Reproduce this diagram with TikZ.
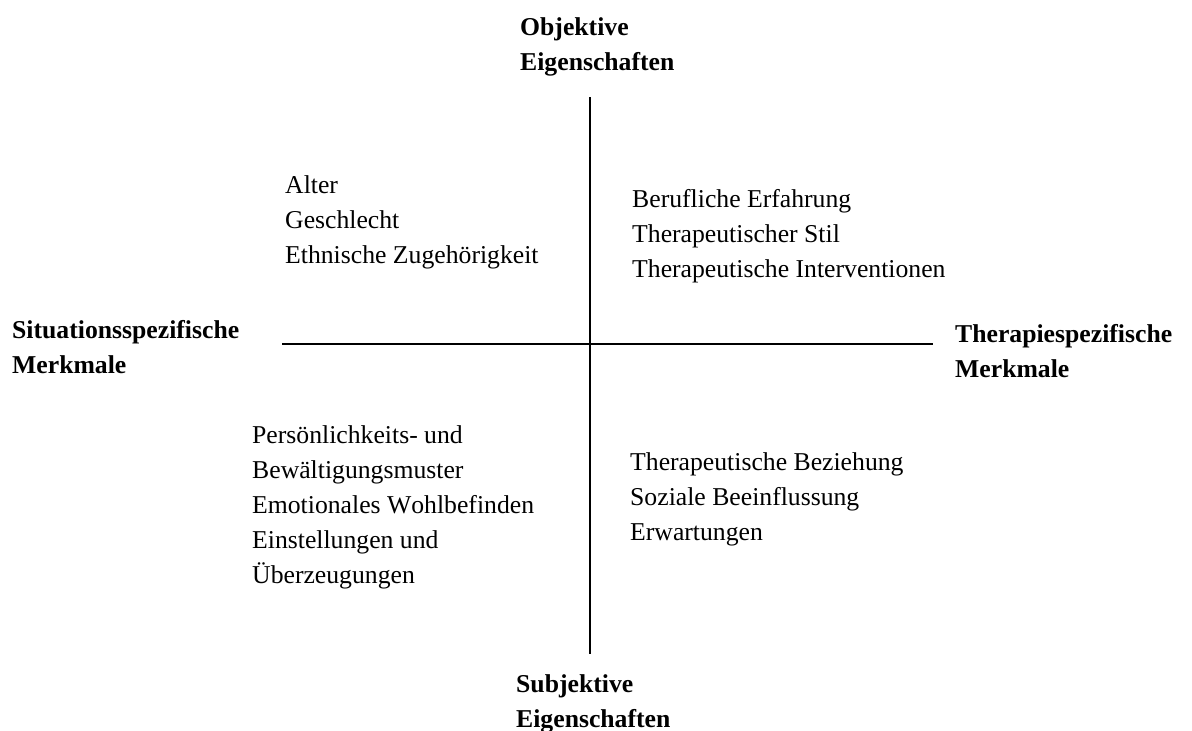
\documentclass[tikz,border=0pt]{standalone}
\usepackage{fontspec}
\setmainfont[Kerning=Off]{Liberation Serif}
\begin{document}
\begin{tikzpicture}[x=1pt,y=-1pt,
  txt/.style={anchor=base west,inner sep=0pt,align=left,
    font=\fontsize{25.7}{35}\selectfont},
  axislabel/.style={txt,font=\fontsize{25.7}{35}\selectfont\bfseries},
  axis/.style={line width=1.7pt,black}]
\useasboundingbox (0,0) rectangle (1192,731);
\coordinate (vtop) at (590,97);
\coordinate (vbot) at (590,654);
\coordinate (hleft) at (282,344);
\coordinate (hright) at (933,344);
\draw[axis] (vtop) -- (vbot);
\draw[axis] (hleft) -- (hright);
\node[axislabel] (obj) at (520,70) {Objektive\\Eigenschaften};
\node[axislabel] (subj) at (516,727) {Subjektive\\Eigenschaften};
\node[axislabel] (sit) at (12,373) {Situationsspezifische\\Merkmale};
\node[axislabel] (ther) at (955,377) {Therapiespezifische\\Merkmale};
\node[txt] (tl) at (285,263) {Alter\\Geschlecht\\Ethnische Zugehörigkeit};
\node[txt] (tr) at (632,277) {Berufliche Erfahrung\\Therapeutischer Stil\\Therapeutische Interventionen};
\node[txt] (bl) at (252,583) {Persönlichkeits- und\\Bewältigungsmuster\\Emotionales Wohlbefinden\\Einstellungen und\\Überzeugungen};
\node[txt] (br) at (630,540) {Therapeutische Beziehung\\Soziale Beeinflussung\\Erwartungen};
\end{tikzpicture}
\end{document}
